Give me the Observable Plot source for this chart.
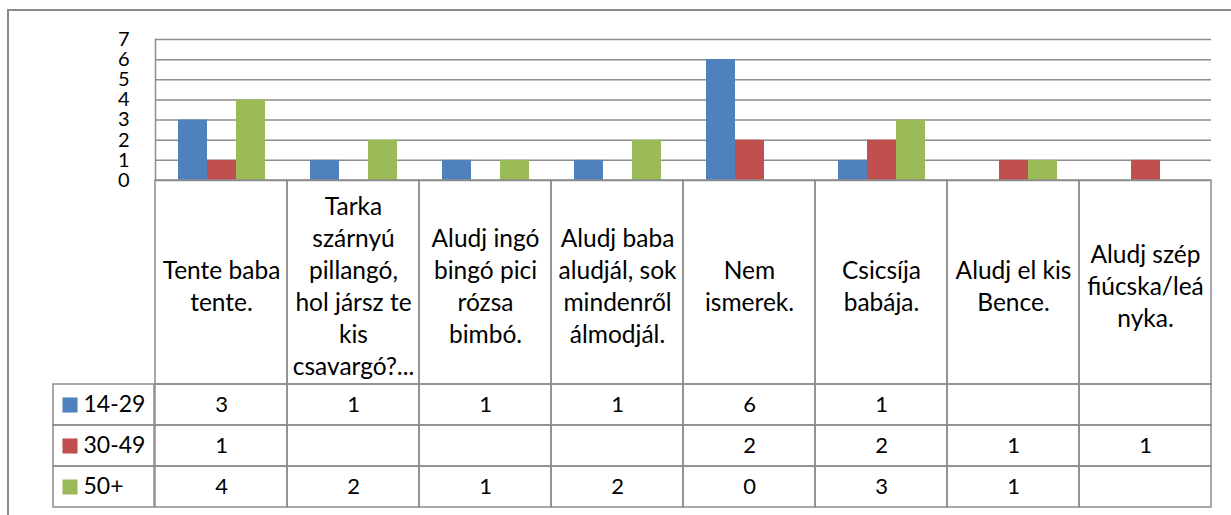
<!DOCTYPE html>
<html>
<head>
<meta charset="utf-8">
<script src="https://cdn.jsdelivr.net/npm/d3@7"></script>
<script src="https://cdn.jsdelivr.net/npm/@observablehq/plot@0.6"></script>
<style>
  body { margin: 0; background: #fff; }
  #wrap { position: relative; width: 1231px; height: 515px; overflow: hidden; font-family: Lato, "Open Sans", sans-serif; }
  #wrap > div { position: absolute; }
  svg { overflow: visible; }
</style>
</head>
<body>
<div id="wrap">
  <div id="border" style="left:7px;top:9px;width:1300px;height:600px;border:2px solid #8c8c8c;"></div>
  <div id="bars" style="left:0;top:0"></div>
  <div id="head" style="left:0;top:180px"></div>
  <div id="legend" style="left:53px;top:383px"></div>
  <div id="table" style="left:0;top:383px"></div>
</div>
<script>
// ---- data ----
const categories = [
  "Tente baba tente.",
  "Tarka szárnyú pillangó, hol jársz te kis csavargó?...",
  "Aludj ingó bingó pici rózsa bimbó.",
  "Aludj baba aludjál, sok mindenről álmodjál.",
  "Nem ismerek.",
  "Csicsíja babája.",
  "Aludj el kis Bence.",
  "Aludj szép fiúcska/leányka."
];
const categoryLabels = [
  "Tente baba\ntente.",
  "Tarka\nszárnyú\npillangó,\nhol jársz te\nkis\ncsavargó?...",
  "Aludj ingó\nbingó pici\nrózsa\nbimbó.",
  "Aludj baba\naludjál, sok\nmindenről\nálmodjál.",
  "Nem\nismerek.",
  "Csicsíja\nbabája.",
  "Aludj el kis\nBence.",
  "Aludj szép\nfiúcska/leá\nnyka."
];
const series = ["14-29", "30-49", "50+"];
const values1429 = [3, 1, 1, 1, 6, 1, null, null];
const values3049 = [1, null, null, null, 2, 2, 1, 1];
const values50 = [4, 2, 1, 2, 0, 3, 1, null];
const colors = ["#4F81BD", "#C0504D", "#9BBB59"];
const yTicks = [0, 1, 2, 3, 4, 5, 6, 7];

const seriesValues = [values1429, values3049, values50];
const rows = series.flatMap((s, j) =>
  categories.map((c, i) => ({category: c, series: s, value: seriesValues[j][i]}))
);

const gridColor = "#8c8c8c";
const font = "Lato, 'Open Sans', sans-serif";
const W = 1231, left = 153, right = 1231 - 1212;

// ---- bars ----
const bars = Plot.plot({
  width: W, height: 180,
  marginLeft: left, marginRight: right, marginTop: 39, marginBottom: 0,
  style: {fontFamily: font, fontSize: "20px", color: "#000", background: "transparent", overflow: "visible"},
  fx: {domain: categories, padding: 0, axis: null},
  x: {domain: series, paddingInner: 0, paddingOuter: 0.75, axis: null},
  y: {domain: [0, 7], axis: null},
  color: {domain: series, range: colors},
  marks: [
    Plot.ruleY(yTicks, {stroke: gridColor, strokeWidth: 1.5}),
    Plot.barY(rows.filter(d => d.value != null), {fx: "category", x: "series", y: "value", fill: "series"}),
    Plot.axisY({ticks: yTicks, tickFormat: d3.format("d"), tickSize: 0, tickPadding: 26, fontSize: 20, fill: "#000", label: null}),
    Plot.frame({anchor: "left", stroke: gridColor, strokeWidth: 1.5, facet: "super"})
  ]
});
document.getElementById("bars").appendChild(bars);

// ---- category header row ----
const head = Plot.plot({
  width: W, height: 204,
  marginLeft: left, marginRight: right, marginTop: 0, marginBottom: 0,
  style: {fontFamily: font, fontSize: "25px", color: "#000", background: "transparent", overflow: "visible"},
  x: {domain: categories, padding: 0, axis: null},
  marks: [
    Plot.cell(categories, {x: d => d, fill: "none", stroke: gridColor, strokeWidth: 1.5}),
    Plot.text(categories, {x: d => d, text: (d, i) => categoryLabels[i], frameAnchor: "middle", lineHeight: 1.31, fontSize: 24.5, dy: 2, fill: "#000"})
  ]
});
document.getElementById("head").appendChild(head);

// ---- legend column ----
const legend = Plot.plot({
  width: 101, height: 125,
  marginLeft: 0, marginRight: 0, marginTop: 0, marginBottom: 0,
  style: {fontFamily: font, fontSize: "23px", color: "#000", background: "transparent", overflow: "visible"},
  y: {domain: series, padding: 0, axis: null},
  color: {domain: series, range: colors},
  marks: [
    Plot.cell(series, {y: d => d, fill: "none", stroke: gridColor, strokeWidth: 1.5}),
    Plot.dot(series, {y: d => d, fill: d => d, symbol: "square", r: 8.5, frameAnchor: "left", dx: 16.5}),
    Plot.text(series, {y: d => d, text: d => d, frameAnchor: "left", textAnchor: "start", dx: 30, fontSize: 23, fill: "#000"})
  ]
});
document.getElementById("legend").appendChild(legend);

// ---- value table ----
const table = Plot.plot({
  width: W, height: 125,
  marginLeft: left, marginRight: right, marginTop: 0, marginBottom: 0,
  style: {fontFamily: font, fontSize: "22px", color: "#000", background: "transparent", overflow: "visible"},
  x: {domain: categories, padding: 0, axis: null},
  y: {domain: series, padding: 0, axis: null},
  marks: [
    Plot.cell(rows, {x: "category", y: "series", fill: "none", stroke: gridColor, strokeWidth: 1.5}),
    Plot.text(rows.filter(d => d.value != null), {x: "category", y: "series", text: d => String(d.value), fontSize: 22, fill: "#000"})
  ]
});
document.getElementById("table").appendChild(table);
</script>
</body>
</html>
